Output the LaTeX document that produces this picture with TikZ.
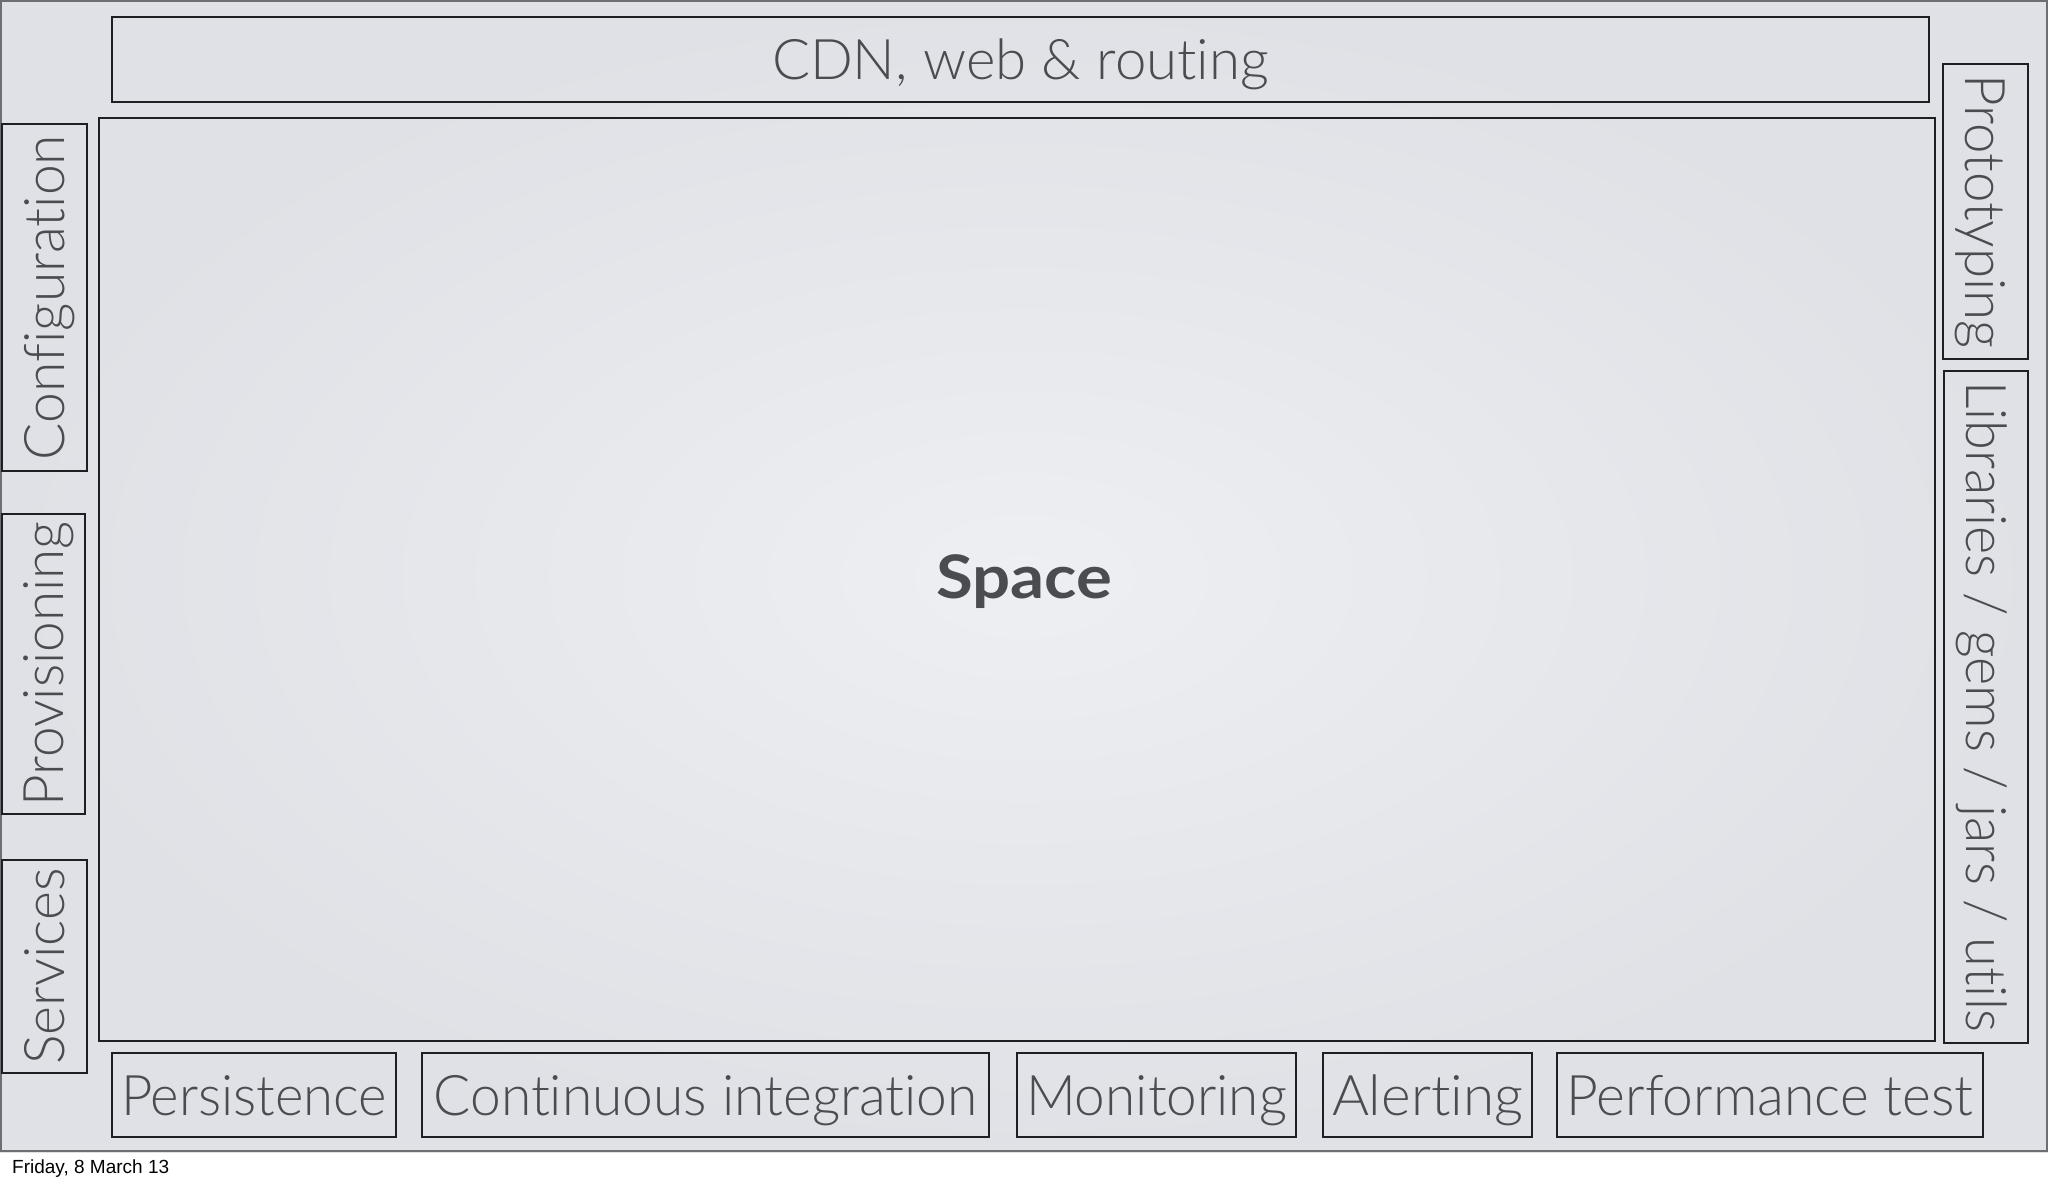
\documentclass[tikz,border=0pt]{standalone}
\usepackage{fontspec}
\usepackage{graphicx}
\newfontfamily\gill{Lato Light}[Ligatures=CommonOff]
\newfontfamily\gillbold{Lato Bold}[Ligatures=CommonOff]
\newfontfamily\datefont{Liberation Sans}
\definecolor{txt}{HTML}{4B4C4F}
\definecolor{boxline}{HTML}{1E1F22}
\definecolor{frame}{HTML}{6E6F72}
\definecolor{bgout}{HTML}{DFE1E6}
\definecolor{bgin}{HTML}{EEEFF2}
\newsavebox\fitbox
\newcommand\fitw[2]{\sbox\fitbox{#2}\pgfmathsetmacro\fitsx{#1/\the\wd\fitbox}\scalebox{\fitsx}[1]{\usebox\fitbox}}
\tikzset{
  panel/.style={draw=boxline, line width=2.4pt, inner sep=0pt, text=txt,
    font=\gill\fontsize{56}{60}\selectfont, text height=40pt, text depth=0pt},
  biglabel/.style={inner sep=0pt, text=txt, font=\gillbold\fontsize{60}{64}\selectfont,
    text height=43pt, text depth=0pt},
}
\begin{document}
\begin{tikzpicture}[x=1pt,y=-1pt]
\useasboundingbox[fill=white] (0,0) rectangle (2048,1184);
\shade[inner color=bgin, outer color=bgout] (0,0) rectangle (2048,1152);
\draw[frame, line width=2pt] (1,1) rectangle (2047,1151);
% top
\node[panel, minimum width=1817pt, minimum height=85pt] (cdn) at (1020.5,59.5) {\fitw{497}{CDN, web \& routing}};
% main
\node[panel, minimum width=1836pt, minimum height=923pt] (space) at (1017,579.5) {};
\node[biglabel] (spacelabel) at (1024,577) {\fitw{176}{Space}};
% left
\node[panel, rotate=90, minimum width=347pt, minimum height=85pt] (conf) at (44.5,297.5) {\fitw{325}{Configuration}};
\node[panel, rotate=90, minimum width=300pt, minimum height=83pt] (prov) at (43.5,664) {\fitw{285}{Provisioning}};
\node[panel, rotate=90, minimum width=213pt, minimum height=85pt] (serv) at (44.5,966.5) {\fitw{196}{Services}};
% right
\node[panel, rotate=-90, minimum width=295pt, minimum height=85pt] (proto) at (1985.5,211.5) {\fitw{274}{Prototyping}};
\node[panel, rotate=-90, minimum width=672pt, minimum height=84pt] (libs) at (1986,707) {\fitw{651}{Libraries / gems / jars / utils}};
% bottom
\node[panel, minimum width=284pt, minimum height=84pt] (pers) at (254,1095) {\fitw{266}{Persistence}};
\node[panel, minimum width=567pt, minimum height=84pt] (ci) at (705.5,1095) {\fitw{544}{Continuous integration}};
\node[panel, minimum width=279pt, minimum height=84pt] (mon) at (1156.5,1095) {\fitw{261}{Monitoring}};
\node[panel, minimum width=209pt, minimum height=84pt] (alert) at (1427.5,1095) {\fitw{191}{Alerting}};
\node[panel, minimum width=426pt, minimum height=84pt] (perf) at (1770,1095) {\fitw{407}{Performance test}};
% date
\node[anchor=base west, inner sep=0pt, font=\datefont\fontsize{19}{22}\selectfont] (date) at (12,1173) {Friday, 8 March 13};
\end{tikzpicture}
\end{document}
